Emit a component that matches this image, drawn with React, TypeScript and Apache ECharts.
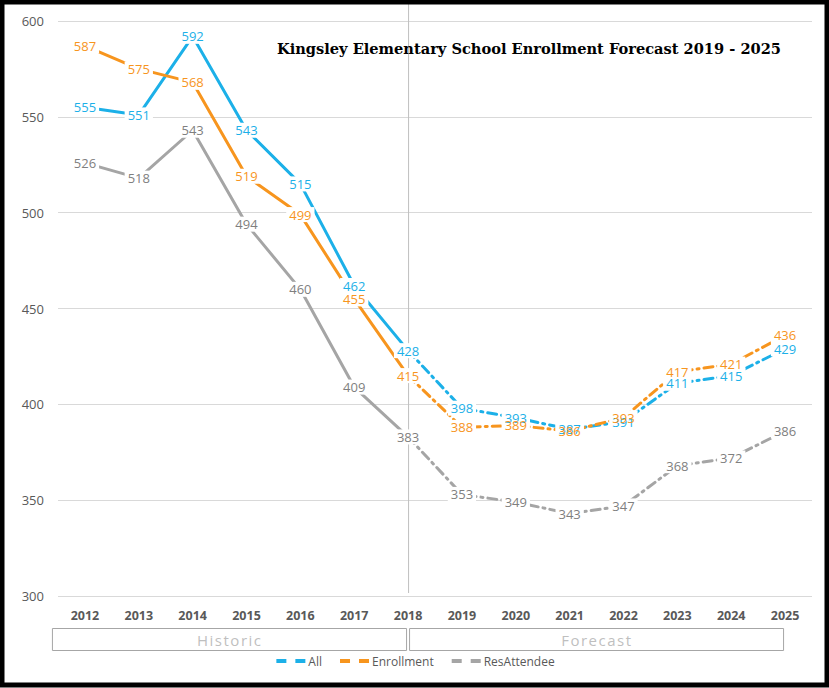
import React, { useEffect, useRef } from 'react';
import * as echarts from 'echarts';

const years = ['2012', '2013', '2014', '2015', '2016', '2017', '2018', '2019', '2020', '2021', '2022', '2023', '2024', '2025'];
const allValues = [555, 551, 592, 543, 515, 462, 428, 398, 393, 387, 391, 411, 415, 429];
const enrollmentValues = [587, 575, 568, 519, 499, 455, 415, 388, 389, 386, 393, 417, 421, 436];
const resAttendeeValues = [526, 518, 543, 494, 460, 409, 383, 353, 349, 343, 347, 368, 372, 386];
const seriesNames = ['All', 'Enrollment', 'ResAttendee'];
const seriesColors = ['#1cb0e8', '#f7951e', '#a5a5a5'];
const labelColors = ['#1cb0e8', '#f7951e', '#7f7f7f'];
const splitYear = '2018';
const titleText = 'Kingsley Elementary School Enrollment Forecast 2019 - 2025';
const periodLabels = ['Historic', 'Forecast'];

const App = () => {
  const ref = useRef<HTMLDivElement>(null);
  useEffect(() => {
    document.body.style.margin = '0';
    if (!ref.current) return;
    const chart = echarts.init(ref.current, null, { renderer: 'svg' });
    const splitIdx = years.indexOf(splitYear);
    const valueSets = [allValues, enrollmentValues, resAttendeeValues];
    const series: any[] = [];
    const labelBase = {
      show: true,
      position: 'inside',
      fontSize: 13,
      fontFamily: 'Open Sans',
      opacity: 1,
    };
    valueSets.forEach((vals, s) => {
      // white blank boxes that interrupt the lines under the value labels
      const maskLabel = {
        ...labelBase,
        color: 'rgba(255,255,255,0)',
        backgroundColor: '#ffffff',
        padding: [1, 3],
        formatter: (p: any) => String(p.value).replace(/./g, '\u2007'),
      };
      const common = {
        type: 'line',
        name: seriesNames[s],
        symbol: 'circle',
        symbolSize: 1,
        showSymbol: true,
        itemStyle: { color: 'rgba(0,0,0,0)', borderWidth: 0 },
        labelLayout: { hideOverlap: false },
        z: 2,
      };
      series.push({
        ...common,
        label: maskLabel,
        data: vals.map((v, i) => (i <= splitIdx ? v : '-')),
        lineStyle: { color: seriesColors[s], width: 3, cap: 'round' },
      });
      series.push({
        ...common,
        label: maskLabel,
        data: vals.map((v, i) =>
          i < splitIdx ? '-' : i === splitIdx ? { value: v, label: { show: false } } : v
        ),
        lineStyle: { color: seriesColors[s], width: 3, type: [9, 5, 2, 5], cap: 'round' },
      });
    });
    valueSets.forEach((vals, s) => {
      series.push({
        type: 'line',
        name: seriesNames[s],
        symbol: 'circle',
        symbolSize: 1,
        showSymbol: true,
        itemStyle: { color: 'rgba(0,0,0,0)', borderWidth: 0 },
        lineStyle: { width: 0, opacity: 0 },
        labelLayout: { hideOverlap: false },
        label: { ...labelBase, color: labelColors[s] },
        data: vals,
        z: 5,
      });
    });

    chart.setOption({
      animation: false,
      backgroundColor: '#ffffff',
      grid: { left: 58, right: 17, top: 21, bottom: 92 },
      xAxis: {
        type: 'category',
        data: years,
        boundaryGap: true,
        axisLine: { show: false },
        axisTick: { show: false },
        axisLabel: { color: '#595959', fontWeight: 'bold', fontSize: 12.5, fontFamily: 'Open Sans', margin: 13 },
      },
      yAxis: {
        type: 'value',
        min: 300,
        max: 600,
        interval: 50,
        axisLine: { show: false },
        axisTick: { show: false },
        axisLabel: { color: '#595959', fontSize: 13, fontFamily: 'Open Sans', margin: 14 },
        splitLine: { lineStyle: { color: '#d9d9d9', width: 1 } },
      },
      legend: {
        bottom: 16,
        left: 'center',
        itemWidth: 30,
        itemHeight: 4,
        itemGap: 16,
        textStyle: { color: '#595959', fontSize: 12, fontFamily: 'Open Sans', padding: [0, 0, 0, -3] },
        data: seriesNames.map((n, s) => ({
          name: n,
          itemStyle: { opacity: 0 },
          lineStyle: { color: seriesColors[s], width: 4, type: [10, 9], cap: 'butt', opacity: 1 },
        })),
      },
      series,
    });

    const xSplit = chart.convertToPixel({ xAxisIndex: 0 }, splitYear) as number;
    const xFirst = chart.convertToPixel({ xAxisIndex: 0 }, years[0]) as number;
    const xLast = chart.convertToPixel({ xAxisIndex: 0 }, years[years.length - 1]) as number;
    const boxTop = 628;
    const boxH = 22;
    const boxes = [
      { x0: xFirst - 33, x1: xSplit - 2, text: periodLabels[0] },
      { x0: xSplit + 1, x1: xLast - 2, text: periodLabels[1] },
    ];
    chart.setOption({
      graphic: [
        {
          type: 'line',
          z: 0,
          shape: { x1: xSplit + 0.5, y1: 0, x2: xSplit + 0.5, y2: 593 },
          style: { stroke: '#bfbfbf', lineWidth: 1 },
        },
        ...boxes.flatMap((b) => [
          {
            type: 'rect',
            shape: { x: b.x0 + 0.5, y: boxTop + 0.5, width: b.x1 - b.x0, height: boxH },
            style: { fill: 'none', stroke: '#a6a6a6', lineWidth: 1 },
          },
          {
            type: 'text',
            x: (b.x0 + b.x1) / 2,
            y: boxTop + boxH / 2 + 1,
            style: {
              text: b.text.split('').join('\u200A'),
              fill: '#bfbfbf',
              font: '15px "Open Sans"',
              align: 'center',
              verticalAlign: 'middle',
            },
          },
        ]),
        {
          type: 'text',
          x: 277,
          y: 48,
          style: {
            text: titleText,
            fill: '#000000',
            font: 'bold 14.6px "DejaVu Serif"',
            align: 'left',
            verticalAlign: 'middle',
          },
        },
        {
          type: 'rect',
          z: 100,
          shape: { x: 2, y: 2, width: 825, height: 683 },
          style: { fill: 'none', stroke: '#000000', lineWidth: 5 },
        },
      ],
    });

    return () => chart.dispose();
  }, []);
  return <div ref={ref} style={{ width: 829, height: 688 }} />;
};

export default App;
